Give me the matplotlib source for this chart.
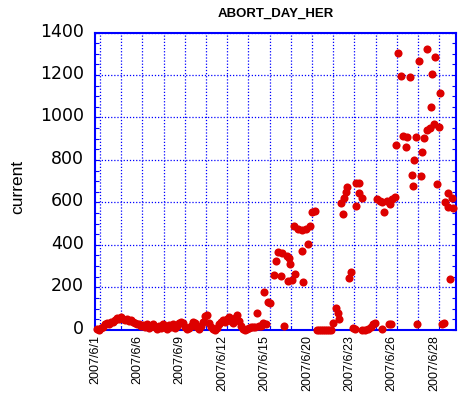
import matplotlib
matplotlib.use("Agg")
import matplotlib.pyplot as plt
import matplotlib.transforms as mtransforms
from matplotlib.ticker import MultipleLocator

# sample position (10 samples per grid cell) and abort count
sample = [-1.2, -0.5, 0.5, 1.4, 2.4, 3.3, 4.2, 5.2, 6.1, 7.1, 8.0, 9.0, 9.9, 10.8, 11.8, 12.7,
          13.7, 14.6, 15.6, 16.5, 17.5, 18.4, 19.3, 20.3, 21.2, 22.2, 23.1, 24.1, 25.0, 25.9,
          26.9, 27.8, 28.8, 29.7, 30.7, 31.6, 32.5, 33.5, 34.4, 35.4, 36.3, 37.3, 38.2, 39.2,
          40.1, 41.0, 42.0, 42.9, 43.9, 44.8, 45.8, 46.7, 47.6, 48.6, 49.5, 50.5, 51.4, 52.4,
          53.3, 54.2, 55.2, 56.1, 57.1, 58.0, 59.0, 59.9, 60.8, 61.8, 62.7, 63.7, 64.6, 65.6,
          66.5, 67.5, 68.4, 69.3, 70.3, 71.2, 72.2, 73.1, 74.1, 75.0, 75.9, 76.9, 77.4, 78.3,
          79.2, 80.2, 82.1, 83.1, 83.8, 85.4, 86.0, 86.9, 88.1, 88.5, 89.3, 89.8, 90.7, 91.7,
          92.0, 93.5, 95.1, 95.4, 95.9, 97.0, 98.3, 99.1, 100.1, 101.4, 102.4, 103.3, 104.2,
          105.2, 106.1, 107.1, 108.0, 109.0, 110.0, 111.3, 112.1, 112.7, 113.7, 114.8, 115.2,
          115.9, 116.5, 117.5, 118.4, 119.5, 120.2, 120.6, 120.9, 122.2, 122.2, 123.6, 123.7,
          125.0, 126.4, 127.8, 129.0, 129.7, 130.5, 132.1, 132.9, 132.9, 134.1, 135.5, 136.3,
          136.8, 137.3, 137.6, 139.2, 139.6, 140.7, 141.8, 143.1, 144.3, 145.0, 146.1, 147.0,
          147.8, 148.3, 149.1, 149.7, 150.6, 151.4, 152.0, 152.9, 154.1, 154.4, 155.7, 156.1,
          156.7, 157.5, 158.0, 159.1, 159.9, 160.4, 161.5, 162.4, 162.7, 164.0, 164.3, 165.1,
          166.2, 166.7]
current = [5, 0, 8, 15, 25, 30, 28, 38, 35, 45, 55, 50, 58, 52, 48, 50,
           42, 45, 38, 30, 25, 28, 20, 22, 15, 25, 10, 18, 28, 12,
           5, 20, 8, 25, 15, 5, 22, 12, 28, 8, 18, 30, 38, 30,
           12, 5, 10, 20, 38, 30, 15, 5, 20, 35, 65, 70, 30, 15,
           5, 0, 10, 25, 38, 45, 35, 50, 62, 40, 30, 55, 70, 40,
           20, 5, 0, 3, 10, 12, 15, 15, 78, 18, 20, 30, 178, 25,
           132, 128, 258, 324, 365, 253, 362, 18, 348, 230, 340, 308, 234, 490,
           261, 475, 470, 371, 224, 473, 402, 490, 555, 560, 0, 0, 0,
           0, 0, 0, 0, 0, 31, 105, 78, 50, 598, 545, 619,
           650, 671, 242, 274, 10, 3, 690, 583, 690, 643, 0, 619,
           0, 2, 12, 25, 31, 614, 606, 603, 2, 556, 608, 27,
           592, 27, 614, 627, 872, 1305, 1195, 913, 862, 906, 1189, 727,
           677, 800, 906, 26, 1267, 726, 839, 902, 941, 1321, 949, 1051,
           1203, 968, 1283, 685, 957, 1114, 26, 31, 603, 577, 646, 238,
           619, 572]

# date labels sit on every second grid line
date_pos = [0, 20, 40, 60, 80, 100, 120, 140, 160]
date_labels = ["2007/6/1", "2007/6/6", "2007/6/9", "2007/6/12", "2007/6/15",
               "2007/6/20", "2007/6/23", "2007/6/26", "2007/6/28"]

blue = "#0000ff"
plt.rcParams['font.family'] = ['Liberation Sans', 'DejaVu Sans']

fig = plt.figure(figsize=(4.62, 3.93), dpi=100)
ax = fig.add_axes([0.2063, 0.1608, 0.7797, 0.7565])

ax.scatter(sample, current, s=34, color='#dd0000', linewidths=0, zorder=5, clip_on=False)

ax.set_xlim(-2.2, 167.7)
ax.set_ylim(0, 1400)

for side in ax.spines.values():
    side.set_color(blue)
    side.set_linewidth(1.5)

ax.xaxis.set_major_locator(MultipleLocator(10))
ax.yaxis.set_major_locator(MultipleLocator(200))
ax.yaxis.set_minor_locator(MultipleLocator(50))
ax.grid(True, which='major', color=blue, linestyle=(0, (1, 1.5)), linewidth=0.9)

ax.tick_params(axis='x', which='major', direction='in', length=3, width=0.8, color=blue,
               top=False, labelsize=9, labelrotation=90, pad=4)
ax.tick_params(axis='y', which='both', direction='in', length=3, width=0.8, color=blue,
               left=True, right=True, pad=8)

# only every second vertical grid line carries a date
ax.set_xticks(range(0, 161, 10))
ax.set_xticklabels([date_labels[date_pos.index(p)] if p in date_pos else "" for p in range(0, 161, 10)])

shift_x = mtransforms.ScaledTranslation(-5 / 100, 0, fig.dpi_scale_trans)
for lab in ax.get_xticklabels():
    lab.set_transform(lab.get_transform() + shift_x)
shift_y = mtransforms.ScaledTranslation(0, 3 / 100, fig.dpi_scale_trans)
for lab in ax.get_yticklabels():
    lab.set_transform(lab.get_transform() + shift_y)
    lab.set_family('DejaVu Sans')
    lab.set_fontsize(12.5)

ax.set_title("ABORT_DAY_HER", fontsize=9.5, fontweight='bold', pad=11)
fig.text(18 / 462, 1 - 187 / 393, "current", rotation=90, fontsize=12.5, ha='center', va='center')

fig.savefig("out.png", dpi=100)
